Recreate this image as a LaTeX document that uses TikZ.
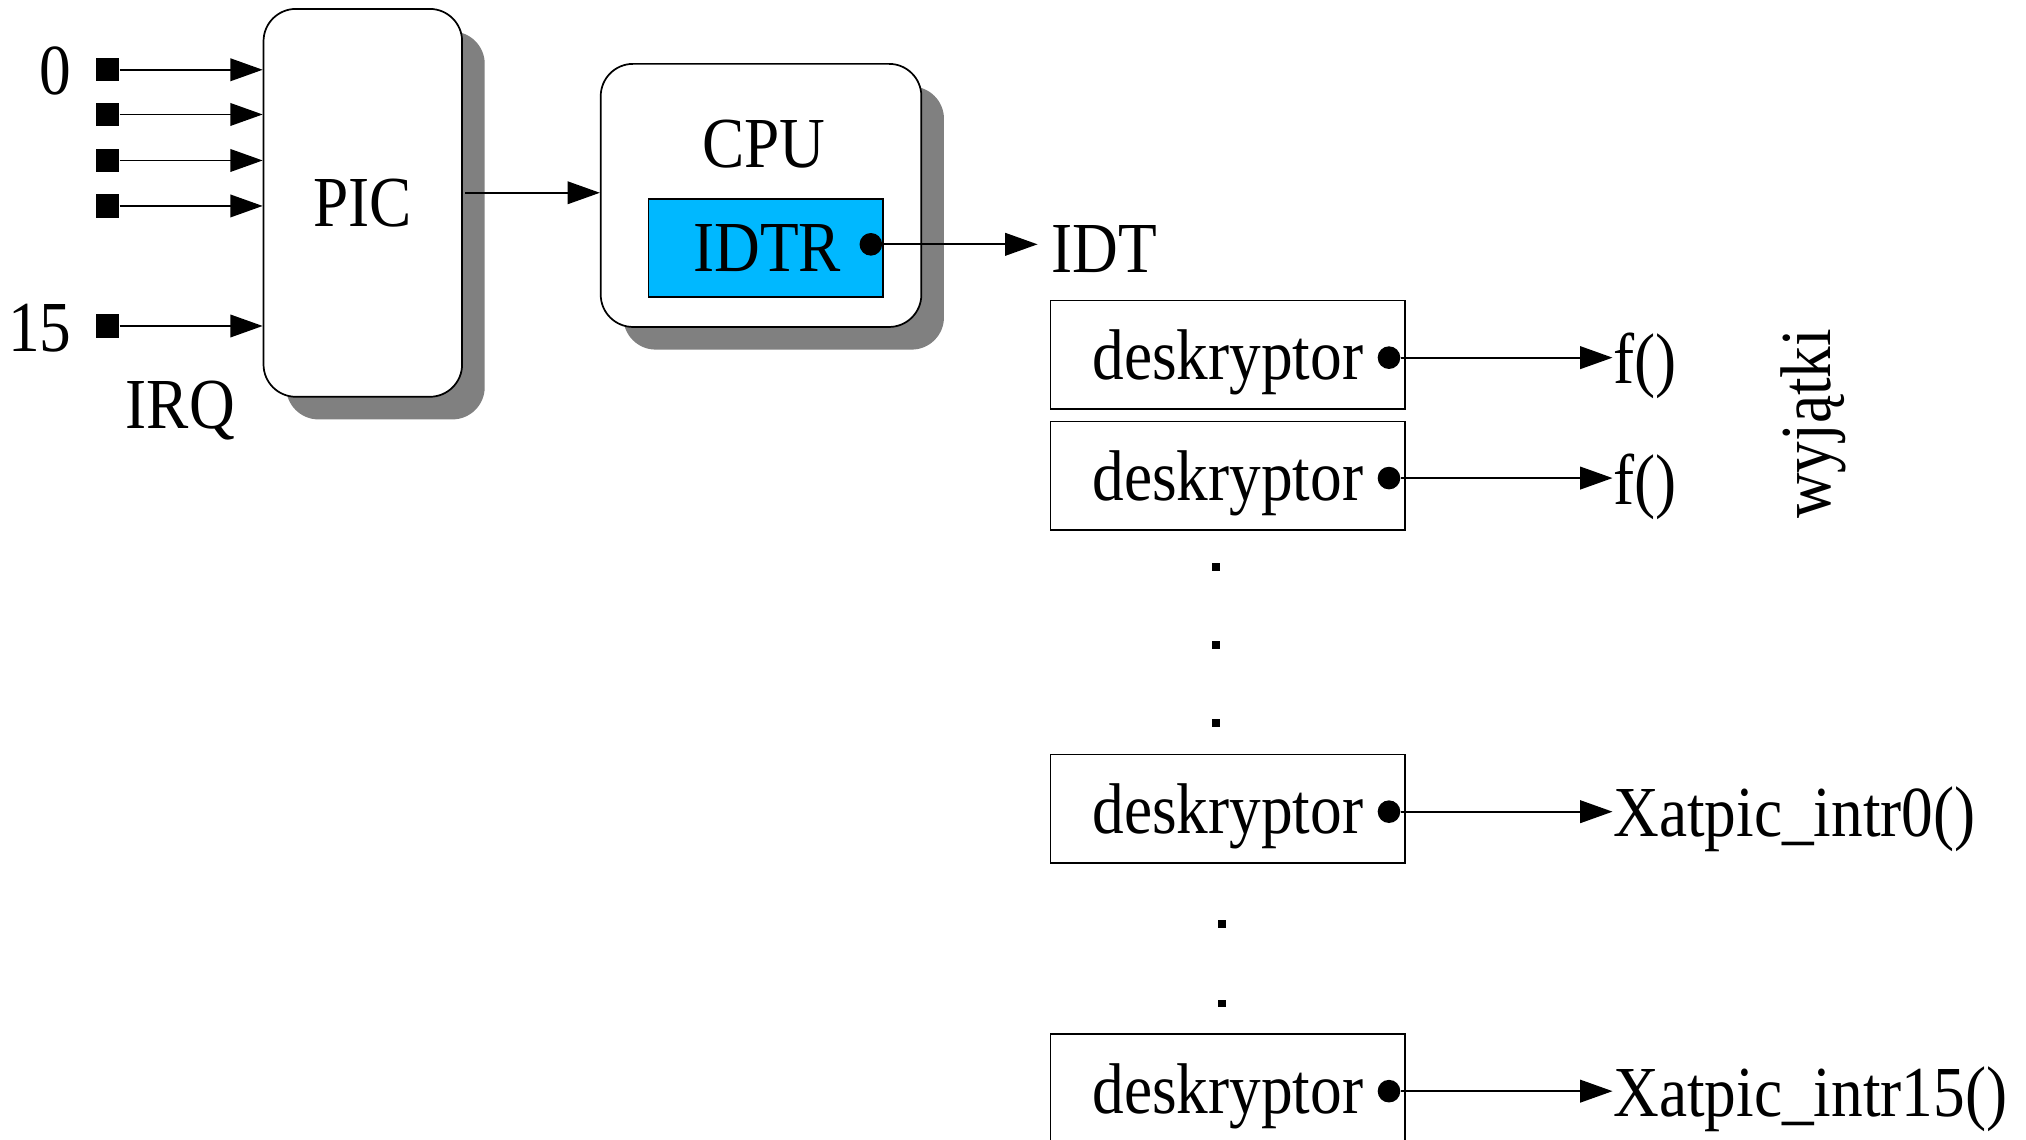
\documentclass[tikz,border=0pt]{standalone}
\usepackage{fontspec}
\setmainfont{Liberation Serif}[FakeStretch=0.882]
\usetikzlibrary{arrows.meta}
\usetikzlibrary{shadows}
\definecolor{regblue}{HTML}{00B8FF}

\begin{document}
\begin{tikzpicture}[x=0.01cm,y=-0.01cm,->,>={Triangle[length=0.25cm,width=0.175cm]},line width=0.38pt,font=\fontsize{15.8}{19}\selectfont,
	box node/.style={draw,rounded corners=0.25cm,fill=white,drop shadow={shadow xshift=0.175cm,shadow yshift=-0.175cm,fill=black!50,opacity=1}},
	irq node/.style={fill=black,minimum size=0.18cm,inner sep=0pt},
	desc node/.style={draw,minimum width=2.745cm,minimum height=0.84cm,inner sep=0pt,text depth=0pt},
	dot node/.style={circle,fill=black,minimum size=0.175cm,inner sep=0pt},
	gap node/.style={fill=black,minimum size=0.06cm,inner sep=0pt},
	text node/.style={inner sep=0pt,anchor=base west}]
	
	\useasboundingbox (0,0) rectangle (1568,882);
	
	\node[box node,minimum width=1.536cm,minimum height=3cm,text depth=0pt] at (280.8,157) (pic) {PIC};
	\node[box node,minimum width=2.48cm,minimum height=2.035cm] at (589,151.25) (cpu) {};
	\node[text node] at (543,130) (cputxt) {CPU};
	\node[draw,fill=regblue,minimum width=1.816cm,minimum height=0.756cm,inner sep=0pt,text depth=0pt] at (592.8,191.8) (idtr) {\hspace*{0.02cm}IDTR};
	\node[dot node] at (674,189.1) (idtrdot) {};
	\node[text node,inner xsep=0.1cm] at (803,211) (idt) {IDT};
	
	\node[irq node] at (83,54) (q0) {};
	\node[irq node] at (83,88.6) (q1) {};
	\node[irq node] at (83,124.2) (q2) {};
	\node[irq node] at (83,159.4) (q3) {};
	\node[irq node] at (83,252.3) (q15) {};
	\node[text node,anchor=base east] at (56,73.5) (n0) {0};
	\node[text node,anchor=base east] at (56,272) (n15) {15};
	\node[text node] at (96.7,331.5) (irq) {IRQ};
	\coordinate (picout) at (360,149.2);
	
	\node[desc node] at (950.25,274.6) (desc1) {deskryptor};
	\node[desc node] at (950.25,368.3) (desc2) {deskryptor};
	\node[desc node] at (950.25,626) (desc3) {deskryptor};
	\node[desc node] at (950.25,842.3) (desc4) {deskryptor};
	\node[dot node] at (1075,276.8) (dot1) {};
	\node[dot node] at (1075,370) (dot2) {};
	\node[dot node] at (1075,628.2) (dot3) {};
	\node[dot node] at (1075,844.5) (dot4) {};
	
	\node[gap node] at (941.2,438.6) (gap1) {};
	\node[gap node] at (941.2,499.2) (gap2) {};
	\node[gap node] at (941.2,559.8) (gap3) {};
	\node[gap node] at (945.5,715.4) (gap4) {};
	\node[gap node] at (945.5,776.6) (gap5) {};
	
	\node[text node] at (1248,296.6) (f1) {f()};
	\node[text node] at (1248,390.2) (f2) {f()};
	\node[text node] at (1248,647.6) (intr0) {Xatpic\_intr0()};
	\node[text node] at (1248,864.3) (intr15) {Xatpic\_intr15()};
	\node[inner sep=0pt,anchor=base,rotate=90] at (1416.5,328) (exc) {wyjątki};
	
	\path
	(q0) edge (q0 -| pic.west)
	(q1) edge (q1 -| pic.west)
	(q2) edge (q2 -| pic.west)
	(q3) edge (q3 -| pic.west)
	(q15) edge (q15 -| pic.west)
	(picout) edge (picout -| cpu.west)
	(idtrdot) edge (idtrdot -| idt.west)
	(dot1) edge (dot1 -| f1.west)
	(dot2) edge (dot2 -| f2.west)
	(dot3) edge (dot3 -| intr0.west)
	(dot4) edge (dot4 -| intr15.west)
	;
	
\end{tikzpicture}
\end{document}
